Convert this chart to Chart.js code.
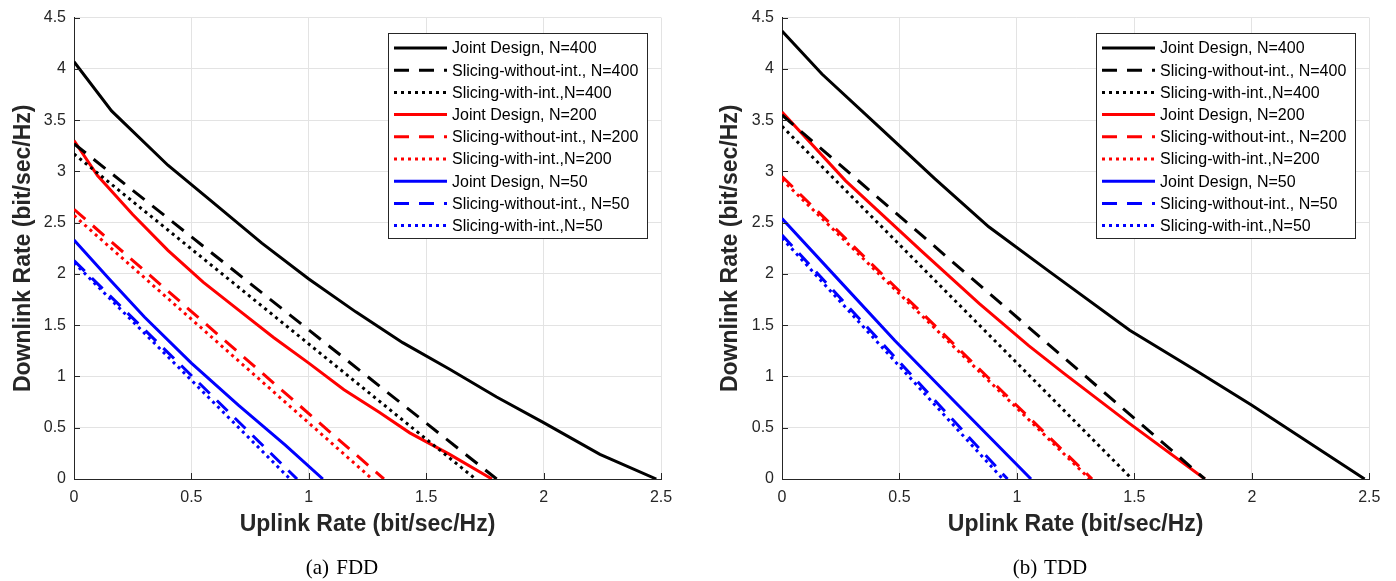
<!DOCTYPE html>
<html>
<head>
<meta charset="utf-8">
<script src="https://cdn.jsdelivr.net/npm/chart.js@4.4.1/dist/chart.umd.min.js"></script>
<style>
html,body{margin:0;padding:0;background:#fff;}
body{width:1396px;height:581px;overflow:hidden;position:relative;}
.wrap{position:absolute;top:0;height:581px;}
#w1{left:0;width:700px;}
#w2{left:700px;width:696px;}
.cap{position:absolute;top:557px;font-family:"Liberation Serif","Times New Roman",serif;font-size:21px;line-height:21px;color:#000;white-space:nowrap;transform:translateX(-50%);word-spacing:2px;}
</style>
</head>
<body>
<div class="wrap" id="w1"><canvas id="c1" width="700" height="581"></canvas></div>
<div class="wrap" id="w2"><canvas id="c2" width="696" height="581"></canvas></div>
<div class="cap" style="left:342px;">(a) FDD</div>
<div class="cap" style="left:1050px;">(b) TDD</div>
<script>
// ---------- data ----------
const seriesLabels = [
  'Joint Design, N=400', 'Slicing-without-int., N=400', 'Slicing-with-int.,N=400',
  'Joint Design, N=200', 'Slicing-without-int., N=200', 'Slicing-with-int.,N=200',
  'Joint Design, N=50', 'Slicing-without-int., N=50', 'Slicing-with-int.,N=50'
];
const xTicks = [0, 0.5, 1, 1.5, 2, 2.5];
const yTicks = [0, 0.5, 1, 1.5, 2, 2.5, 3, 3.5, 4, 4.5];

// (a) FDD
const fddJd400X = [0, 0.16, 0.40, 0.58, 0.80, 1.00, 1.20, 1.40, 1.60, 1.80, 2.00, 2.24, 2.48];
const fddJd400Y = [4.07, 3.59, 3.06, 2.72, 2.30, 1.95, 1.63, 1.33, 1.07, 0.80, 0.55, 0.24, 0];
const fddSw400X = [0, 1.80];
const fddSw400Y = [3.27, 0];
const fddSi400X = [0, 1.71];
const fddSi400Y = [3.17, 0];
const fddJd200X = [0, 0.10, 0.25, 0.40, 0.55, 0.70, 0.85, 1.00, 1.15, 1.30, 1.43, 1.60, 1.78];
const fddJd200Y = [3.30, 2.96, 2.58, 2.23, 1.92, 1.65, 1.38, 1.13, 0.87, 0.65, 0.45, 0.24, 0];
const fddSw200X = [0, 1.32];
const fddSw200Y = [2.63, 0];
const fddSi200X = [0, 1.27];
const fddSi200Y = [2.57, 0];
const fddJd50X = [0, 0.15, 0.30, 0.50, 0.70, 0.90, 1.06];
const fddJd50Y = [2.33, 1.95, 1.58, 1.13, 0.72, 0.33, 0];
const fddSw50X = [0, 0.95];
const fddSw50Y = [2.13, 0];
const fddSi50X = [0, 0.92];
const fddSi50Y = [2.11, 0];

// (b) TDD
const tddJd400X = [0, 0.17, 0.42, 0.65, 0.88, 1.14, 1.48, 1.76, 2.00, 2.48];
const tddJd400Y = [4.37, 3.95, 3.42, 2.93, 2.46, 2.02, 1.45, 1.06, 0.72, 0];
const tddSw400X = [0, 1.80];
const tddSw400Y = [3.55, 0];
const tddSi400X = [0, 1.49];
const tddSi400Y = [3.44, 0];
const tddJd200X = [0, 0.27, 0.60, 0.84, 1.05, 1.20, 1.48, 1.80];
const tddJd200Y = [3.58, 2.91, 2.21, 1.71, 1.30, 1.03, 0.54, 0];
const tddSw200X = [0, 1.32];
const tddSw200Y = [2.95, 0];
const tddSi200X = [0, 1.31];
const tddSi200Y = [2.92, 0];
const tddJd50X = [0, 0.25, 0.48, 0.75, 1.06];
const tddJd50Y = [2.54, 1.92, 1.35, 0.72, 0];
const tddSw50X = [0, 0.96];
const tddSw50Y = [2.38, 0];
const tddSi50X = [0, 0.94];
const tddSi50Y = [2.35, 0];

// ---------- styles ----------
const colors = ['#000000', '#000000', '#000000', '#ff0000', '#ff0000', '#ff0000', '#0000ff', '#0000ff', '#0000ff'];
const DASH = [15, 10];
const DOT = [3, 4];
const dashes = [[], DASH, DOT, [], DASH, DOT, [], DASH, DOT];
const TXT = '#262626';
const SANS = '"Liberation Sans", Arial, Helvetica, sans-serif';

function pts(xs, ys) { return xs.map((x, i) => ({x: x, y: ys[i]})); }

function makeDatasets(pairs) {
  return pairs.map((p, i) => ({
    label: seriesLabels[i],
    data: pts(p[0], p[1]),
    borderColor: colors[i],
    backgroundColor: colors[i],
    borderWidth: 3,
    borderDash: dashes[i],
    borderCapStyle: 'butt',
    borderJoinStyle: 'miter',
    pointRadius: 0,
    tension: 0,
    fill: false
  }));
}

const insideTicks = {
  id: 'insideTicks',
  afterDraw(chart) {
    const {ctx, chartArea: ca, scales} = chart;
    ctx.save();
    ctx.strokeStyle = TXT;
    ctx.lineWidth = 1;
    ctx.beginPath();
    yTicks.forEach(v => {
      const y = Math.round(scales.y.getPixelForValue(v)) + 0.5;
      ctx.moveTo(ca.left, y); ctx.lineTo(ca.left + 6, y);
    });
    xTicks.forEach(v => {
      const x = Math.round(scales.x.getPixelForValue(v)) + 0.5;
      ctx.moveTo(x, ca.bottom); ctx.lineTo(x, ca.bottom - 6);
    });
    ctx.stroke();
    ctx.restore();
  }
};

const insideLegend = {
  id: 'insideLegend',
  afterDraw(chart) {
    const {ctx, chartArea: ca} = chart;
    const w = 259, h = 205;
    const x0 = Math.round(ca.right - 14 - w), y0 = Math.round(ca.top + 15);
    ctx.save();
    ctx.fillStyle = '#ffffff';
    ctx.fillRect(x0, y0, w, h);
    ctx.strokeStyle = TXT;
    ctx.lineWidth = 1;
    ctx.strokeRect(x0 + 0.5, y0 + 0.5, w, h);
    ctx.font = '16px ' + SANS;
    ctx.textBaseline = 'middle';
    ctx.textAlign = 'left';
    chart.data.datasets.forEach((ds, i) => {
      const yy = y0 + 15 + i * 22.2;
      ctx.beginPath();
      ctx.setLineDash(ds.borderDash);
      ctx.lineCap = 'butt';
      ctx.strokeStyle = ds.borderColor;
      ctx.lineWidth = ds.borderWidth;
      ctx.moveTo(x0 + 6, yy);
      ctx.lineTo(x0 + 59, yy);
      ctx.stroke();
      ctx.setLineDash([]);
      ctx.fillStyle = '#000000';
      ctx.fillText(ds.label, x0 + 64, yy + 1);
    });
    ctx.restore();
  }
};

const fmt = v => String(Math.round(v * 10) / 10);

function makeChart(id, pairs, yAxisWidth, rightPad, yTitlePad) {
  return new Chart(document.getElementById(id), {
    type: 'line',
    data: { datasets: makeDatasets(pairs) },
    options: {
      responsive: false,
      animation: false,
      events: [],
      layout: { padding: { left: 0, right: rightPad, top: 17, bottom: 0 } },
      plugins: { legend: { display: false }, tooltip: { enabled: false } },
      scales: {
        x: {
          type: 'linear', min: 0, max: 2.5,
          afterBuildTicks: s => { s.ticks = xTicks.map(v => ({value: v})); },
          afterFit: s => { s.height = 102; },
          grid: { color: '#e3e3e3', lineWidth: 1, drawTicks: false },
          border: { display: true, color: TXT, width: 1 },
          ticks: { color: TXT, padding: 9, font: { family: SANS, size: 16 }, callback: fmt },
          title: { display: true, text: 'Uplink Rate (bit/sec/Hz)', color: TXT,
                   font: { family: SANS, size: 23, weight: 'bold' }, padding: { top: 0, bottom: 43 } }
        },
        y: {
          type: 'linear', min: 0, max: 4.5,
          afterBuildTicks: s => { s.ticks = yTicks.map(v => ({value: v})); },
          afterFit: s => { s.width = yAxisWidth; },
          grid: { color: '#e3e3e3', lineWidth: 1, drawTicks: false },
          border: { display: true, color: TXT, width: 1 },
          ticks: { color: TXT, padding: 8, font: { family: SANS, size: 16 }, callback: fmt },
          title: { display: true, text: 'Downlink Rate (bit/sec/Hz)', color: TXT,
                   font: { family: SANS, size: 23, weight: 'bold' }, padding: { top: yTitlePad, bottom: 0 } }
        }
      }
    },
    plugins: [insideTicks, insideLegend]
  });
}

makeChart('c1', [
  [fddJd400X, fddJd400Y], [fddSw400X, fddSw400Y], [fddSi400X, fddSi400Y],
  [fddJd200X, fddJd200Y], [fddSw200X, fddSw200Y], [fddSi200X, fddSi200Y],
  [fddJd50X, fddJd50Y], [fddSw50X, fddSw50Y], [fddSi50X, fddSi50Y]
], 74, 39, 9.5);

makeChart('c2', [
  [tddJd400X, tddJd400Y], [tddSw400X, tddSw400Y], [tddSi400X, tddSi400Y],
  [tddJd200X, tddJd200Y], [tddSw200X, tddSw200Y], [tddSi200X, tddSi200Y],
  [tddJd50X, tddJd50Y], [tddSw50X, tddSw50Y], [tddSi50X, tddSi50Y]
], 82, 26.7, 17);
</script>
</body>
</html>
